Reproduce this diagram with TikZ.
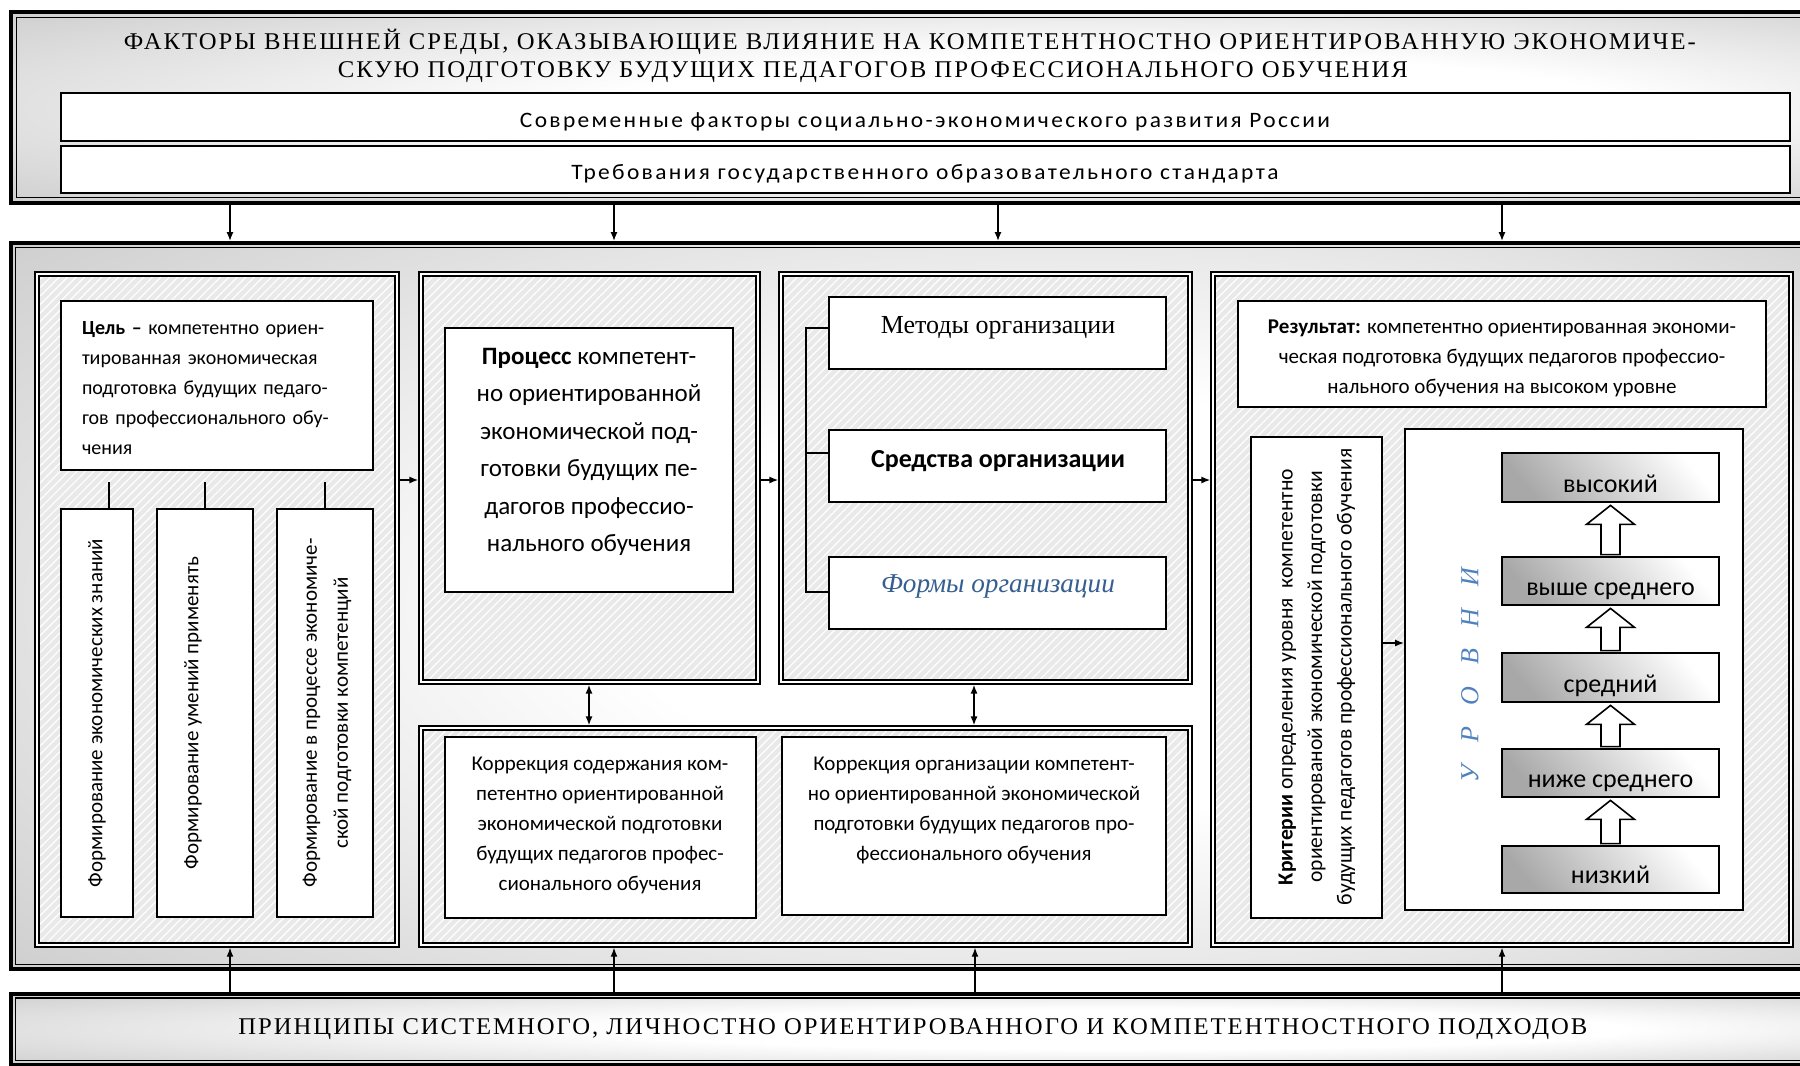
\documentclass[tikz,border=0pt]{standalone}
\usepackage{fontspec}
\usepackage{graphicx}
\setmainfont{Liberation Serif}
\newfontfamily\sansfont{Carlito}
\newfontfamily\bandfont{Carlito}[LetterSpace=10]
\newfontfamily\headfont{Liberation Serif}[LetterSpace=8]
\usetikzlibrary{fit,calc,arrows.meta,patterns.meta}

\definecolor{panelfill}{HTML}{E9E9E9}
\definecolor{formsblue}{HTML}{365F91}
\definecolor{levelsblue}{HTML}{4F81BD}
\pgfdeclareradialshading{bandglow}{\pgfpoint{8bp}{0bp}}{color(0bp)=(white); color(14bp)=(white); color(36bp)=(black!18); color(50bp)=(black!34)}

\newcommand\fitline[2]{\resizebox{#1}{\height}{#2}}
\newcommand\sz[2]{\fontsize{#1}{#2}\selectfont}

\tikzset{
  band/.style={draw, line width=2pt, shade, shading=bandglow, inner sep=0pt, outer sep=1pt},
  bandline/.style={draw, line width=0.7pt},
  strip/.style={draw, fill=white, line width=1pt, inner sep=0pt},
  panel/.style={preaction={fill=panelfill},
    preaction={pattern={Lines[angle=45,distance=3pt,line width=0.6pt]}, pattern color=white},
    draw, line width=0.9pt, double=white, double distance=0.9pt, inner sep=0pt, outer sep=1.35pt},
  card/.style={draw, fill=white, line width=1pt, inner sep=0pt},
  levelbox/.style={draw, line width=1.4pt, top color=white, bottom color=black!34,
    shading angle=-50, inner sep=0pt},
  hollow/.style={draw, fill=white, line width=0.8pt, line join=miter},
  link/.style={line width=0.8pt},
  arr/.style={line width=0.8pt, -{Latex[length=4.5pt,width=3.6pt]}},
  thinarr/.style={line width=0.55pt, -{Latex[length=4.5pt,width=3.4pt]}},
  biarr/.style={line width=0.8pt, {Latex[length=4.5pt,width=3.6pt]}-{Latex[length=4.5pt,width=3.6pt]}},
}

\begin{document}
\begin{tikzpicture}[x=0.5pt,y=-0.5pt]
\useasboundingbox (0,0) rectangle (1800,1066);
\clip (0,0) rectangle (1800,1066);

% ---------- outer bands ----------
\node[band, fit={(11,12) (1815,203)}] (topband) {};
\draw[bandline] (16.5,17.5) rectangle (1815,197.5);
\node[band, fit={(11,243) (1815,969)}] (midband) {};
\draw[bandline] (15.5,247.5) rectangle (1815,964.5);
\node[band, fit={(11,993.5) (1815,1065)}] (botband) {};
\draw[bandline] (15.5,998) rectangle (1815,1060.5);

% ---------- heading ----------
\node[anchor=base, inner sep=0pt, font=\headfont\sz{12}{14}] (head1) at (910,49)
  {\fitline{786pt}{ФАКТОРЫ ВНЕШНЕЙ СРЕДЫ, ОКАЗЫВАЮЩИЕ ВЛИЯНИЕ НА КОМПЕТЕНТНОСТНО ОРИЕНТИРОВАННУЮ ЭКОНОМИЧЕ-}};
\node[anchor=base, inner sep=0pt, font=\headfont\sz{12}{14}] (head2) at (873,77)
  {\fitline{535pt}{СКУЮ ПОДГОТОВКУ БУДУЩИХ ПЕДАГОГОВ ПРОФЕССИОНАЛЬНОГО ОБУЧЕНИЯ}};

\node[strip, fit={(61,93) (1790,141)}] (factors) {};
\node[anchor=base, inner sep=0pt, font=\bandfont\sz{11}{13}] (factorsT) at (925,127)
  {\fitline{405pt}{Современные факторы социально-экономического развития России}};
\node[strip, fit={(61,146) (1790,193)}] (standard) {};
\node[anchor=base, inner sep=0pt, font=\bandfont\sz{11}{13}] (standardT) at (925,179)
  {\fitline{353.5pt}{Требования государственного образовательного стандарта}};

% ---------- bottom principles ----------
\node[anchor=base, inner sep=0pt, font=\headfont\sz{12}{14}] (principles) at (913,1034)
  {\fitline{674.5pt}{ПРИНЦИПЫ СИСТЕМНОГО, ЛИЧНОСТНО ОРИЕНТИРОВАННОГО И КОМПЕТЕНТНОСТНОГО ПОДХОДОВ}};

% ---------- panels ----------
\node[panel, fit={(37,274) (397,945)}] (pA) {};
\node[panel, fit={(421,274) (758,682)}] (pB) {};
\node[panel, fit={(781,274) (1190,682)}] (pC) {};
\node[panel, fit={(421,728) (1190,945)}] (pD) {};
\node[panel, fit={(1213,274) (1791,945)}] (pE) {};

% ---------- goal panel ----------
\node[card, fit={(61,301) (373,470)}] (goal) {};
\node[inner sep=0pt, text width=135pt, align=left, font=\sansfont\sz{10}{15}] (goalT) at (217,388)
  {\makebox[135pt][s]{\textbf{Цель –} компетентно ориен-}\\
   \makebox[135pt][s]{тированная экономическая}\\
   \makebox[135pt][s]{подготовка будущих педаго-}\\
   \makebox[135pt][s]{гов профессионального обу-}\\
   чения};

\node[card, fit={(61,509) (133,917)}] (v1) {};
\node[card, fit={(157,509) (253,917)}] (v2) {};
\node[card, fit={(277,509) (373,917)}] (v3) {};
\node[rotate=90, inner sep=0pt, font=\sansfont\sz{10.5}{15.5}] (v1T) at (97,713) {Формирование экономических знаний};
\node[rotate=90, inner sep=0pt, font=\sansfont\sz{10.5}{15.5}] (v2T) at (193,713) {Формирование умений применять};
\node[rotate=90, inner sep=0pt, align=center, font=\sansfont\sz{10.5}{15.5}] (v3T) at (327,713)
  {Формирование в процессе экономиче-\\ской подготовки компетенций};

\coordinate (g1) at (109,482);
\coordinate (g2) at (205,482);
\coordinate (g3) at (325,482);
\draw[link] (g1) -- (g1 |- v1.north);
\draw[link] (g2) -- (g2 |- v2.north);
\draw[link] (g3) -- (g3 |- v3.north);

% ---------- process panel ----------
\node[card, fit={(445,328) (733,592)}] (proc) {};
\node[inner sep=0pt, align=center, font=\sansfont\sz{12.5}{18.7}] (procT) at (589,452)
  {\textbf{Процесс} компетент-\\но ориентированной\\экономической под-\\готовки будущих пе-\\дагогов профессио-\\нального обучения};

% ---------- organisation panel ----------
\node[card, fit={(829,297) (1166,369)}] (meth) {};
\node[anchor=base, inner sep=0pt, font=\sz{13}{15}] (methT) at (998,333) {Методы организации};
\node[card, fit={(829,430) (1166,502)}] (means) {};
\node[anchor=base, inner sep=0pt, font=\sansfont\bfseries\sz{13}{15}] (meansT) at (998,467) {Средства организации};
\node[card, fit={(829,557) (1166,629)}] (forms) {};
\node[anchor=base, inner sep=0pt, text=formsblue, font=\itshape\sz{13.6}{15}] (formsT) at (998,592) {Формы организации};

\coordinate (bt) at (806,328);
\coordinate (bm) at (806,453);
\coordinate (bb) at (806,592);
\draw[link] (meth.west |- bt) -- (bt) -- (bb) -- (forms.west |- bb);
\draw[link] (bm) -- (means.west |- bm);

% ---------- correction panel ----------
\node[card, fit={(445,737) (756,918)}] (corr1) {};
\node[inner sep=0pt, align=center, font=\sansfont\sz{10.5}{15}] (corr1T) at (600,825)
  {Коррекция содержания ком-\\петентно ориентированной\\экономической подготовки\\будущих педагогов профес-\\сионального обучения};
\node[card, fit={(782,737) (1166,915)}] (corr2) {};
\node[inner sep=0pt, align=center, font=\sansfont\sz{10.5}{15}] (corr2T) at (974,810)
  {Коррекция организации компетент-\\но ориентированной экономической\\подготовки будущих педагогов про-\\фессионального обучения};

% ---------- result panel ----------
\node[card, fit={(1238,301) (1766,407)}] (result) {};
\node[inner sep=0pt, align=center, font=\sansfont\sz{10.5}{15}] (resultT) at (1502,358)
  {\textbf{Результат:} компетентно ориентированная экономи-\\ческая подготовка будущих педагогов профессио-\\нального обучения на высоком уровне};

\node[card, fit={(1251,437) (1382,918)}] (crit) {};
\node[rotate=90, inner sep=0pt, align=center, font=\sansfont\sz{10.8}{14.75}] (critT) at (1317,677)
  {\textbf{Критерии} определения уровня\ \ компетентно\\ориентированой экономической подготовки\\будущих педагогов профессионального обучения};

\node[card, fit={(1405,429) (1743,910)}] (levels) {};
\node[rotate=90, inner sep=0pt, text=levelsblue, font=\itshape\sz{13}{15}] (levelsT) at (1470,675)
  {\makebox[107pt][s]{У Р О В Н И}};

\node[levelbox, fit={(1502,453) (1719,502)}] (lv5) {};
\node[levelbox, fit={(1502,557) (1719,605)}] (lv4) {};
\node[levelbox, fit={(1502,653) (1719,702)}] (lv3) {};
\node[levelbox, fit={(1502,749) (1719,797)}] (lv2) {};
\node[levelbox, fit={(1502,846) (1719,893)}] (lv1) {};
\node[anchor=base, inner sep=0pt, font=\sansfont\sz{13}{15}] (lv5T) at ($(lv5.south)+(0,-11)$) {высокий};
\node[anchor=base, inner sep=0pt, font=\sansfont\sz{13}{15}] (lv4T) at ($(lv4.south)+(0,-11)$) {выше среднего};
\node[anchor=base, inner sep=0pt, font=\sansfont\sz{13}{15}] (lv3T) at ($(lv3.south)+(0,-11)$) {средний};
\node[anchor=base, inner sep=0pt, font=\sansfont\sz{13}{15}] (lv2T) at ($(lv2.south)+(0,-11)$) {ниже среднего};
\node[anchor=base, inner sep=0pt, font=\sansfont\sz{13}{15}] (lv1T) at ($(lv1.south)+(0,-11)$) {низкий};

% hollow arrows climbing the levels
\foreach \lo/\hi in {lv1/lv2, lv2/lv3, lv3/lv4, lv4/lv5}{
  \draw[hollow] ($(\lo.north)+(-9.5,-1)$) -- ($(\hi.south)+(-9.5,21)$) -- ($(\hi.south)+(-24,21)$)
    -- ($(\hi.south)+(0,2)$) -- ($(\hi.south)+(24,21)$) -- ($(\hi.south)+(9.5,21)$)
    -- ($(\lo.north)+(9.5,-1)$) -- cycle;
}

% ---------- connectors ----------
\coordinate (rowA) at (0,480);
\draw[arr] (pA.east |- rowA) -- (pB.west |- rowA);
\draw[arr] (pB.east |- rowA) -- (pC.west |- rowA);
\draw[arr] (pC.east |- rowA) -- (pE.west |- rowA);

\coordinate (rowC) at (0,643);
\draw[arr] (crit.east |- rowC) -- (levels.west |- rowC);

\coordinate (cB) at (589,0);
\coordinate (cC) at (974,0);
\draw[biarr] (pB.south -| cB) -- (pD.north -| cB);
\draw[biarr] (pC.south -| cC) -- (pD.north -| cC);

\coordinate (t1) at (230,0);
\coordinate (t2) at (614,0);
\coordinate (t3) at (998,0);
\coordinate (t4) at (1502,0);
\draw[arr] (topband.south -| t1) -- (midband.north -| t1);
\draw[arr] (topband.south -| t2) -- (midband.north -| t2);
\draw[arr] (topband.south -| t3) -- (midband.north -| t3);
\draw[arr] (topband.south -| t4) -- (midband.north -| t4);

\coordinate (b1) at (230,0);
\coordinate (b2) at (614,0);
\coordinate (b3) at (975,0);
\coordinate (b4) at (1502,0);
\draw[thinarr] (botband.north -| b1) -- (pA.south -| b1);
\draw[thinarr] (botband.north -| b2) -- (pD.south -| b2);
\draw[thinarr] (botband.north -| b3) -- (pD.south -| b3);
\draw[thinarr] (botband.north -| b4) -- (pE.south -| b4);
\end{tikzpicture}
\end{document}
